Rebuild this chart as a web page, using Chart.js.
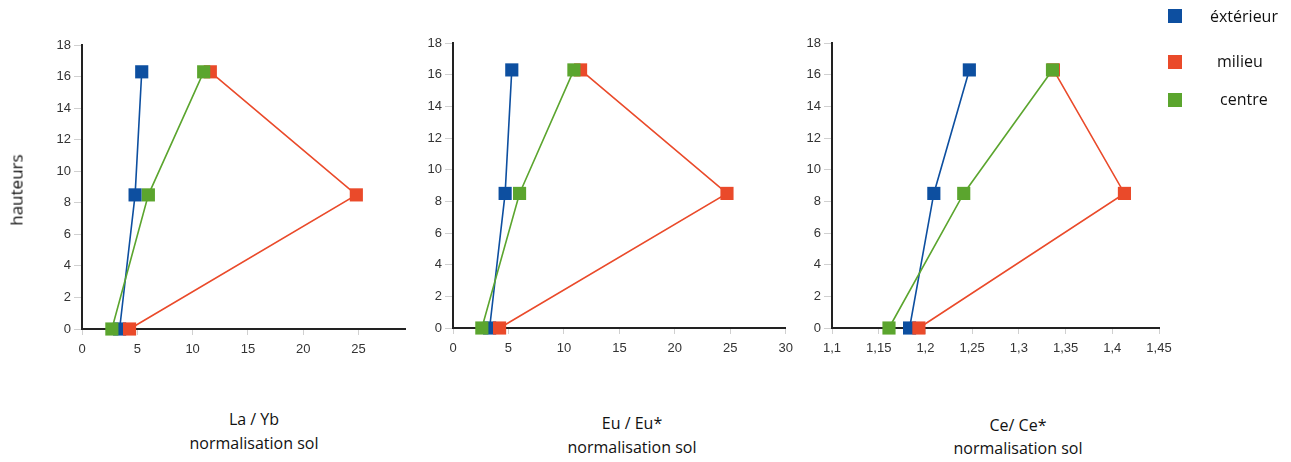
<!DOCTYPE html>
<html>
<head>
<meta charset="utf-8">
<script src="https://cdn.jsdelivr.net/npm/chart.js@4/dist/chart.umd.min.js"></script>
<style>
  body { margin: 0; background: #fff; width: 1291px; height: 462px; overflow: hidden; position: relative; }
  canvas { position: absolute; top: 0; }
  .txt { position: absolute; font-family: "Open Sans", "Noto Sans", sans-serif; color: #111; white-space: nowrap; }
  .title { font-size: 16px; transform: translate(-50%, -50%); text-align: center; }
  .leg { font-size: 16px; transform: translateY(-50%); }
  .sw { position: absolute; width: 14px; height: 14px; }
</style>
</head>
<body>
<canvas id="c1" width="420" height="380" style="left:0px"></canvas>
<canvas id="c2" width="380" height="380" style="left:420px"></canvas>
<canvas id="c3" width="380" height="380" style="left:800px"></canvas>

<div class="txt" style="left:16px;top:190px;font-size:17px;transform:translate(-50%,-50%) rotate(-90deg);">hauteurs</div>

<div class="txt title" style="left:254px;top:419px">La / Yb</div>
<div class="txt title" style="left:254px;top:443px">normalisation sol</div>
<div class="txt title" style="left:632px;top:423px">Eu / Eu*</div>
<div class="txt title" style="left:632px;top:447px">normalisation sol</div>
<div class="txt title" style="left:1018px;top:425px">Ce/ Ce*</div>
<div class="txt title" style="left:1018px;top:448px">normalisation sol</div>

<div class="sw" style="left:1168px;top:9px;background:#0D4FA0"></div>
<div class="txt leg" style="left:1210px;top:16px">éxtérieur</div>
<div class="sw" style="left:1168px;top:55px;background:#EA4A2A"></div>
<div class="txt leg" style="left:1217px;top:61px">milieu</div>
<div class="sw" style="left:1168px;top:93px;background:#5BA52E"></div>
<div class="txt leg" style="left:1220px;top:99px">centre</div>

<script>
// heights (y) shared by all three panels
const hauteurs = [0, 8.5, 16.3];
const yTicks = [0, 2, 4, 6, 8, 10, 12, 14, 16, 18];

// La / Yb
const laYbExterieur = [3.4, 4.8, 5.4];
const laYbMilieu = [4.3, 24.8, 11.6];
const laYbCentre = [2.7, 6.0, 11.0];
const laYbTicks = [0, 5, 10, 15, 20, 25];

// Eu / Eu*
const euEuExterieur = [3.3, 4.7, 5.3];
const euEuMilieu = [4.2, 24.7, 11.5];
const euEuCentre = [2.6, 6.0, 10.9];
const euEuTicks = [0, 5, 10, 15, 20, 25, 30];

// Ce / Ce*
const ceCeExterieur = [1.183, 1.209, 1.247];
const ceCeMilieu = [1.193, 1.413, 1.337];
const ceCeCentre = [1.161, 1.241, 1.336];
const ceCeTicks = [1.1, 1.15, 1.2, 1.25, 1.3, 1.35, 1.4, 1.45];

const BLUE = '#0D4FA0', RED = '#EA4A2A', GREEN = '#5BA52E';

function toPoints(xs) {
    return xs.map((x, i) => ({ x: x, y: hauteurs[i] }));
}

function serie(label, xs, color, order) {
    return {
        label: label,
        data: toPoints(xs),
        borderColor: color,
        backgroundColor: color,
        borderWidth: 1.6,
        pointStyle: 'rect',
        pointRadius: 9.3,
        pointHoverRadius: 9.3,
        pointBackgroundColor: color,
        pointBorderColor: color,
        pointBorderWidth: 0,
        showLine: true,
        clip: false,
        order: order
    };
}

function makePanel(id, canvasLeft, area, xMin, xMax, xTicks, ext, mil, cen) {
    const ctx = document.getElementById(id).getContext('2d');
    const H = 380, W = ctx.canvas.width;
    return new Chart(ctx, {
        type: 'scatter',
        data: {
            datasets: [
                serie('éxtérieur', ext, BLUE, 3),
                serie('milieu', mil, RED, 2),
                serie('centre', cen, GREEN, 1)
            ]
        },
        options: {
            responsive: false,
            animation: false,
            devicePixelRatio: 1,
            layout: { padding: { top: area.top, right: canvasLeft + W - area.right, left: 0, bottom: 0 } },
            plugins: { legend: { display: false }, tooltip: { enabled: false } },
            scales: {
                x: {
                    type: 'linear',
                    min: xMin,
                    max: xMax,
                    afterBuildTicks: s => { s.ticks = xTicks.map(v => ({ value: v })); },
                    afterFit: s => { s.height = H - area.bottom; },
                    ticks: {
                        callback: v => String(v).replace('.', ','),
                        color: '#333',
                        font: { family: 'Liberation Sans', size: 13 },
                        padding: 7,
                        maxRotation: 0,
                        autoSkip: false
                    },
                    grid: { drawOnChartArea: false, drawTicks: true, tickLength: 6, color: '#d0d0d0' },
                    border: { display: true, color: '#222', width: 2 }
                },
                y: {
                    type: 'linear',
                    min: 0,
                    max: 18,
                    afterBuildTicks: s => { s.ticks = yTicks.map(v => ({ value: v })); },
                    afterFit: s => { s.width = area.left - canvasLeft; },
                    ticks: {
                        color: '#333',
                        font: { family: 'Liberation Sans', size: 13 },
                        padding: 3,
                        autoSkip: false
                    },
                    grid: { drawOnChartArea: false, drawTicks: true, tickLength: 8, color: '#d0d0d0' },
                    border: { display: true, color: '#222', width: 2 }
                }
            }
        }
    });
}

makePanel('c1', 0, { left: 82, right: 405, top: 45, bottom: 329 }, 0, 29.2, laYbTicks, laYbExterieur, laYbMilieu, laYbCentre);
makePanel('c2', 420, { left: 453, right: 786, top: 43, bottom: 328 }, 0, 30, euEuTicks, euEuExterieur, euEuMilieu, euEuCentre);
makePanel('c3', 800, { left: 832, right: 1159, top: 43, bottom: 328 }, 1.1, 1.45, ceCeTicks, ceCeExterieur, ceCeMilieu, ceCeCentre);
</script>
</body>
</html>
